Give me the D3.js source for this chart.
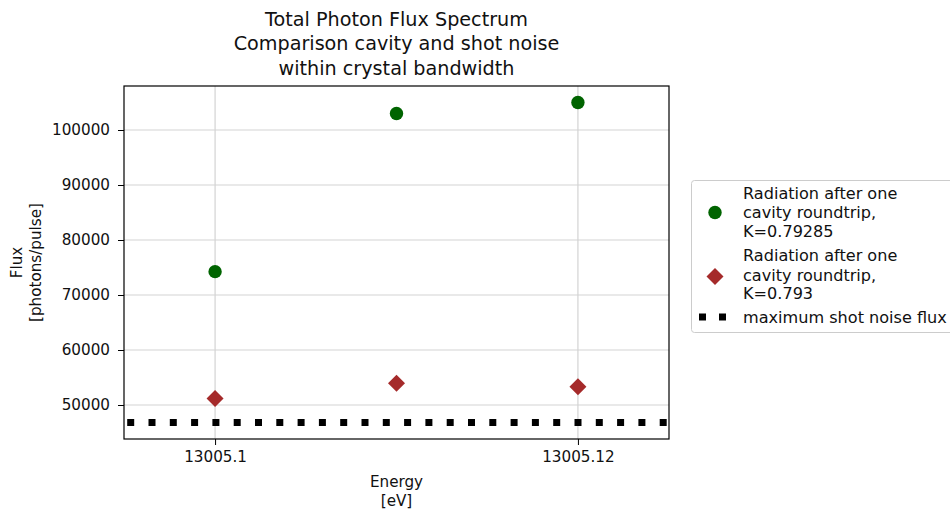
<!DOCTYPE html>
<html><head><meta charset="utf-8">
<script src="https://cdn.jsdelivr.net/npm/d3@7"></script>
<style>body{margin:0;background:#fff;} text{font-family:"DejaVu Sans",sans-serif;}</style>
</head><body>
<svg id="c" width="950" height="512"></svg>
<script>
const energies = [13005.10, 13005.11, 13005.12];
const fluxK79285 = [74250, 103000, 105000];
const fluxK793 = [51200, 53950, 53300];
const shotNoiseFlux = 46800;
const xTicks = [13005.10, 13005.12];
const xTickLabels = ["13005.1", "13005.12"];
const yTicks = [50000, 60000, 70000, 80000, 90000, 100000];
const titleLines = ["Total Photon Flux Spectrum", "Comparison cavity and shot noise", "within crystal bandwidth"];
const legendItems = [
  {lines:["Radiation after one","cavity roundtrip,","K=0.79285"], type:"circle"},
  {lines:["Radiation after one","cavity roundtrip,","K=0.793"], type:"diamond"},
  {lines:["maximum shot noise flux"], type:"dots"}
];

const svg = d3.select("#c");
const L=124, R=669, T=86, B=439;
const fs = 15.2, fsL = 16.1;
const x = d3.scaleLinear().domain([13005.09498, 13005.12502]).range([L, R]);
const y = d3.scaleLinear().domain([43820, 108000]).range([B, T]);

// grid
const g = svg.append("g");
g.selectAll(".gy").data(yTicks).enter().append("line")
  .attr("x1",L).attr("x2",R).attr("y1",d=>y(d)).attr("y2",d=>y(d))
  .attr("stroke","#d3d3d3").attr("stroke-width",1.2);
g.selectAll(".gx").data(xTicks).enter().append("line")
  .attr("y1",T).attr("y2",B).attr("x1",d=>x(d)).attr("x2",d=>x(d))
  .attr("stroke","#d3d3d3").attr("stroke-width",1.2);

// clip
svg.append("clipPath").attr("id","clip").append("rect").attr("x",L).attr("y",T).attr("width",R-L).attr("height",B-T);

// shot noise line
svg.append("line").attr("clip-path","url(#clip)")
  .attr("x1",L).attr("x2",R).attr("y1",y(shotNoiseFlux)).attr("y2",y(shotNoiseFlux))
  .attr("stroke","#000").attr("stroke-width",7)
  .attr("stroke-dasharray","7,14.3").attr("stroke-dashoffset",18.1);

// points
svg.selectAll(".pg").data(energies).enter().append("circle")
  .attr("cx",d=>x(d)).attr("cy",(d,i)=>y(fluxK79285[i])).attr("r",6.7).attr("fill","#006400");
const dia = d3.symbol().type(d3.symbolSquare).size(12*12);
svg.selectAll(".pr").data(energies).enter().append("path")
  .attr("d",dia).attr("fill","#a52a2a")
  .attr("transform",(d,i)=>`translate(${x(d)},${y(fluxK793[i])}) rotate(45)`);

// axes
const xa = svg.append("g").attr("transform",`translate(0,${B})`)
  .call(d3.axisBottom(x).tickValues(xTicks).tickFormat((d,i)=>xTickLabels[i]).tickSize(6).tickPadding(6));
const ya = svg.append("g").attr("transform",`translate(${L},0)`)
  .call(d3.axisLeft(y).tickValues(yTicks).tickFormat(d3.format("d")).tickSize(6).tickPadding(8));
[xa,ya].forEach(a=>{a.select(".domain").remove(); a.selectAll("text").attr("font-size",fs).attr("fill","#111").style("font-family","DejaVu Sans"); a.selectAll("line").attr("stroke","#000");});

// frame
svg.append("rect").attr("x",L).attr("y",T).attr("width",R-L).attr("height",B-T)
  .attr("fill","none").attr("stroke","#000").attr("stroke-width",1.2);

// title
svg.append("text").attr("x",(L+R)/2).attr("text-anchor","middle").attr("font-size",19.2).attr("fill","#111")
  .selectAll("tspan").data(titleLines).enter().append("tspan")
  .attr("x",(L+R)/2).attr("y",(d,i)=>25.5+i*24.5).text(d=>d);

// axis labels
svg.append("text").attr("text-anchor","middle").attr("font-size",fs).attr("fill","#111")
  .selectAll("tspan").data(["Energy","[eV]"]).enter().append("tspan")
  .attr("x",(L+R)/2).attr("y",(d,i)=>487+i*18.5).text(d=>d);
const yl = svg.append("text").attr("text-anchor","middle").attr("font-size",fs).attr("fill","#111")
  .attr("transform",`translate(0,${(T+B)/2}) rotate(-90)`);
yl.selectAll("tspan").data(["Flux","[photons/pulse]"]).enter().append("tspan")
  .attr("x",0).attr("y",(d,i)=>21.5+i*19.5).text(d=>d);

// legend
const lg = svg.append("g");
lg.append("rect").attr("x",691.5).attr("y",180.5).attr("width",270).attr("height",152).attr("rx",3)
  .attr("fill","#fff").attr("stroke","#cccccc");
const rowY = [[193.5,212.5,231],[255.5,275,293],[317]];
legendItems.forEach((it,k)=>{
  const mid = it.lines.length===3 ? rowY[k][1] : rowY[k][0];
  if(it.type==="circle") lg.append("circle").attr("cx",715).attr("cy",mid).attr("r",6.7).attr("fill","#006400");
  else if(it.type==="diamond") lg.append("path").attr("d",dia).attr("fill","#a52a2a").attr("transform",`translate(715,${mid+1.5}) rotate(45)`);
  else lg.append("line").attr("x1",699).attr("x2",730).attr("y1",mid).attr("y2",mid)
        .attr("stroke","#000").attr("stroke-width",7).attr("stroke-dasharray","7,13");
  it.lines.forEach((t,j)=>{
    lg.append("text").attr("x",743).attr("y",rowY[k][j]).attr("dy","0.35em").attr("font-size",fsL).attr("fill","#111").text(t);
  });
});
</script>
</body></html>
